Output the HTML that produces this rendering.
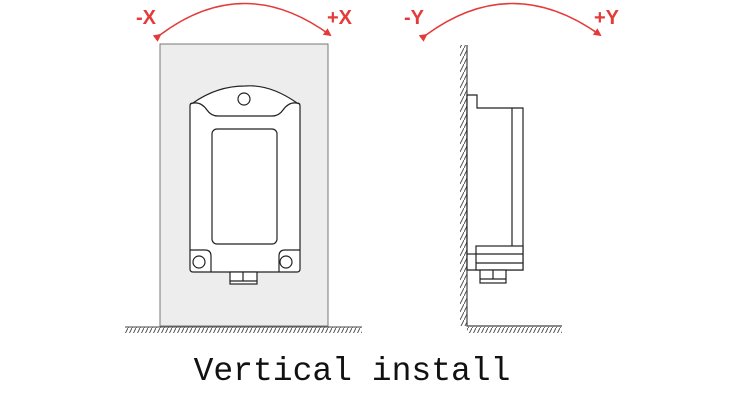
<!DOCTYPE html>
<html><head><style>
html,body{margin:0;padding:0;background:#fff;width:750px;height:400px;overflow:hidden}
</style></head><body>
<svg width="750" height="400" viewBox="0 0 750 400" xmlns="http://www.w3.org/2000/svg">
<defs>
<pattern id="h" width="4" height="8" patternUnits="userSpaceOnUse">
<line x1="0" y1="8" x2="4" y2="0" stroke="#444" stroke-width="0.9"/>
</pattern>
<marker id="a" markerWidth="8" markerHeight="8" refX="6" refY="4" orient="auto" markerUnits="userSpaceOnUse">
<path d="M0,0 L8,4 L0,8 Z" fill="#e53a3a"/>
</marker>
</defs>
<path d="M160,35 Q244,-28 330,35" fill="none" stroke="#e53a3a" stroke-width="1.5" marker-start="url(#a)" marker-end="url(#a)"/>
<path d="M426,35 Q512,-28 600,35" fill="none" stroke="#e53a3a" stroke-width="1.5" marker-start="url(#a)" marker-end="url(#a)"/>
<g font-family="Liberation Sans, sans-serif" font-weight="bold" font-size="20" fill="#e53a3a">
<text x="136" y="24">-X</text><text x="327" y="24">+X</text>
<text x="404" y="24">-Y</text><text x="594" y="24">+Y</text>
</g>
<rect x="160" y="44" width="168" height="282" fill="#ededed" stroke="#777" stroke-width="1"/>
<rect x="125" y="327" width="237" height="6" fill="url(#h)"/>
<line x1="125" y1="327" x2="362" y2="327" stroke="#444" stroke-width="1"/>
<g fill="#fff" stroke="#222" stroke-width="1.2">
<path d="M193,103 Q190,103 190,106 L190,269 Q190,272 193,272 L297,272 Q300,272 300,269 L300,106 Q300,103 297,103 Q270,84 245,86 Q217,86 193,103 Z"/>
<path d="M190,104 Q200,100 207,110 Q211,116 218,116 L272,116 Q279,116 283,110 Q290,100 300,104" fill="none"/>
<circle cx="244" cy="99" r="6"/>
<rect x="212" y="129" width="65" height="115" rx="5"/>
<path d="M190,250 L205,250 Q211,250 211,256 L211,272" fill="none"/>
<path d="M300,250 L285,250 Q279,250 279,256 L279,272" fill="none"/>
<circle cx="199" cy="262" r="6"/>
<circle cx="286" cy="262" r="6"/>
<rect x="230" y="272" width="27" height="12"/>
<line x1="243" y1="272" x2="243" y2="281"/>
<line x1="230" y1="281" x2="257" y2="281"/>
</g>
<rect x="460" y="45" width="7" height="281" fill="url(#h)"/>
<rect x="467" y="327" width="95" height="6" fill="url(#h)"/>
<path d="M467,45 L467,326 L562,326" fill="none" stroke="#444" stroke-width="1.2"/>
<g fill="#fff" stroke="#222" stroke-width="1.2">
<path d="M467,95 L477,95 L477,108 L523,108 L523,270 L467,270 Z"/>
<line x1="512" y1="108" x2="512" y2="270"/>
<rect x="476" y="246" width="47" height="24"/>
<line x1="476" y1="254" x2="523" y2="254"/>
<line x1="476" y1="263" x2="523" y2="263"/>
<line x1="467" y1="254" x2="476" y2="254"/>
<rect x="480" y="270" width="26" height="13"/>
<line x1="493" y1="270" x2="493" y2="279"/>
<line x1="480" y1="279" x2="506" y2="279"/>
</g>
<text x="352" y="380" text-anchor="middle" font-family="Liberation Mono, monospace" font-size="33" fill="#111">Vertical install</text>
</svg>
</body></html>
